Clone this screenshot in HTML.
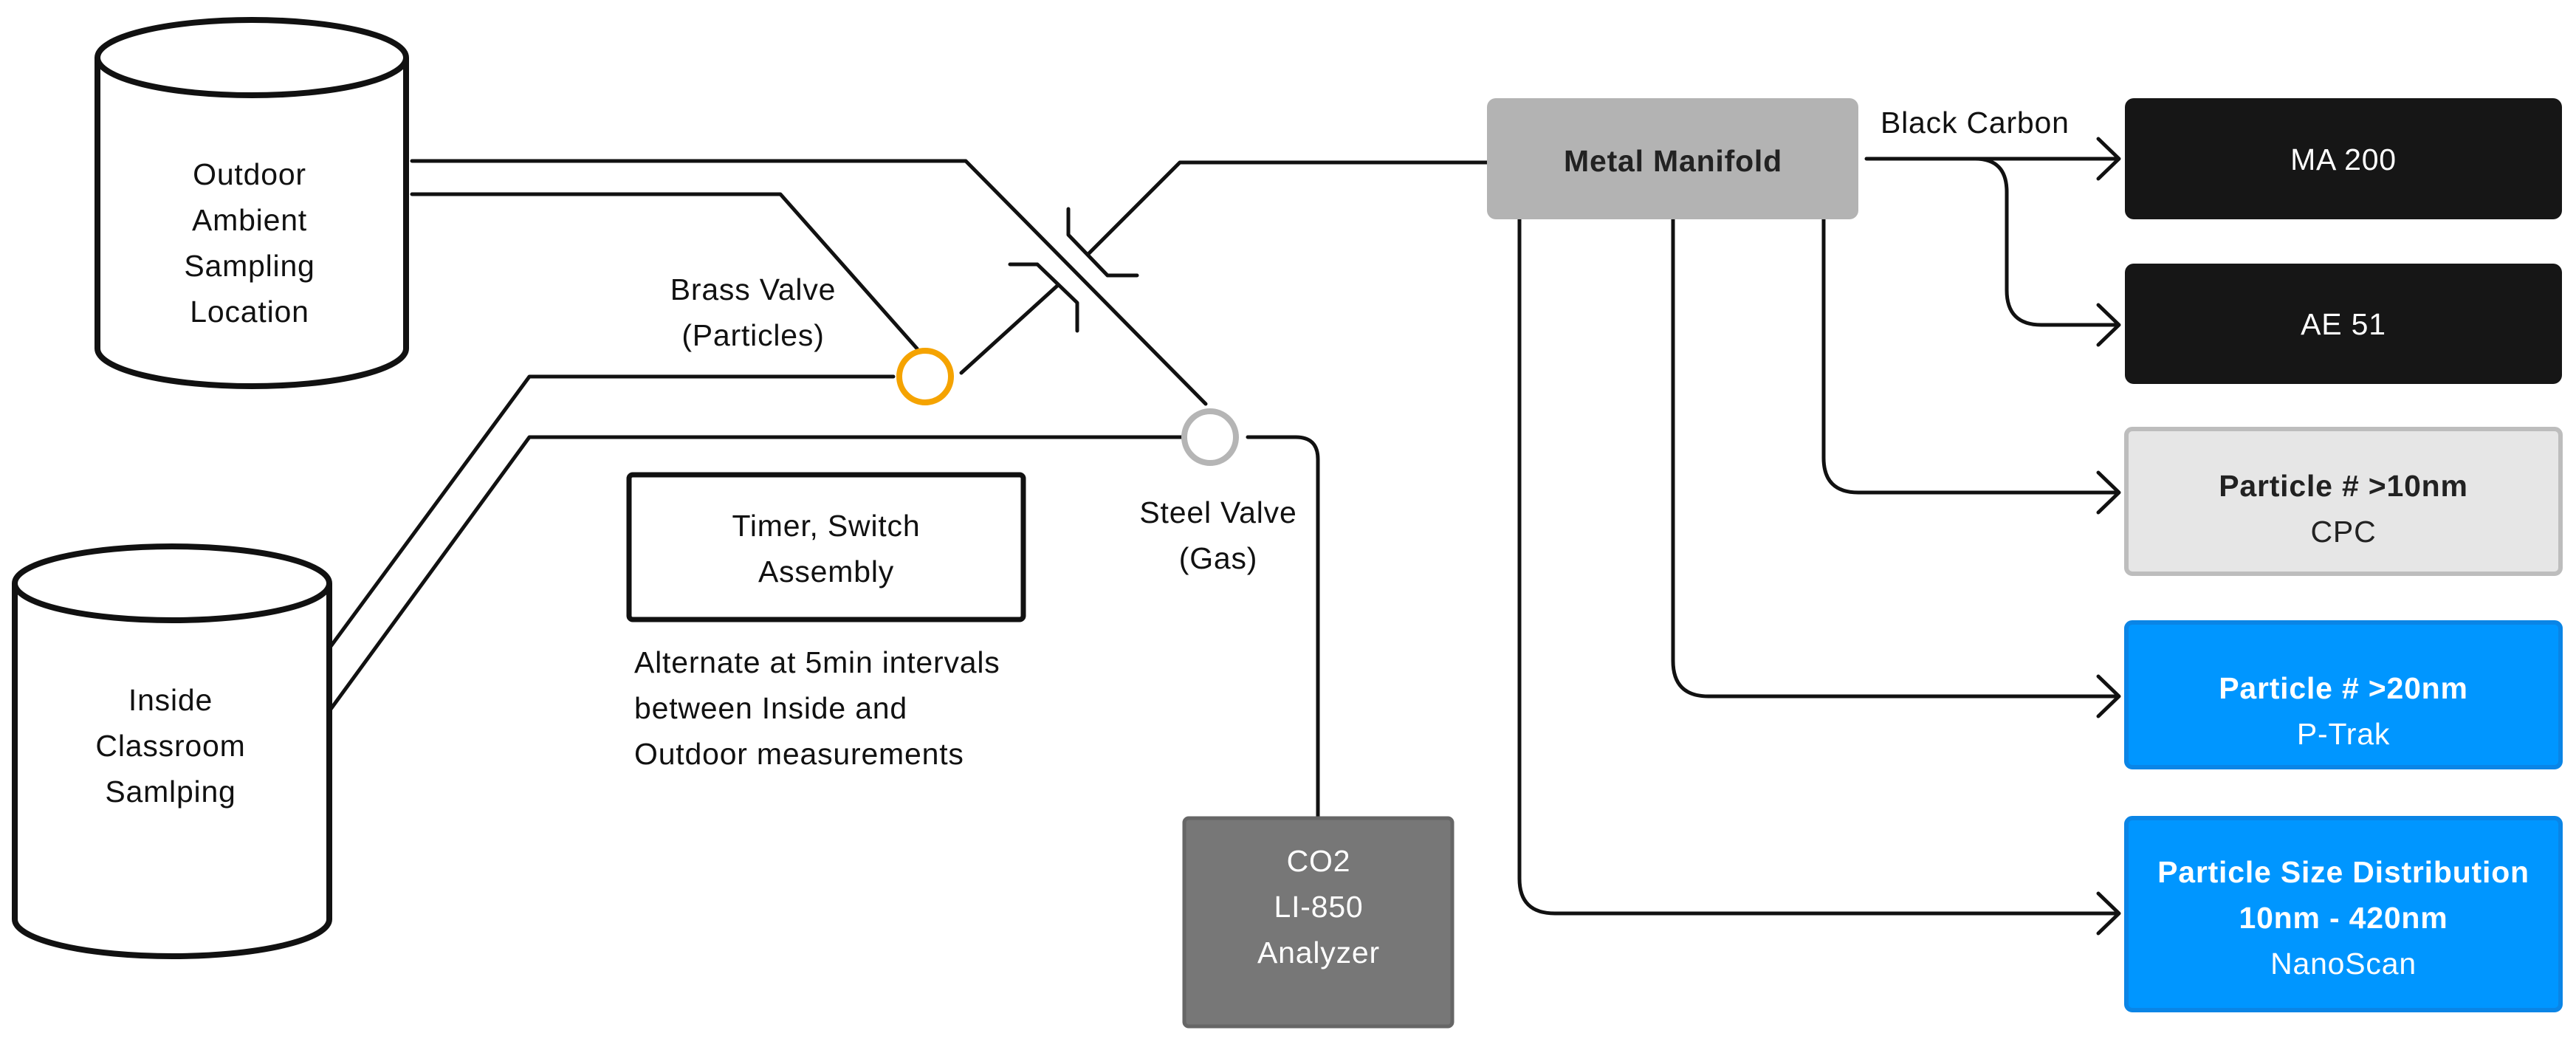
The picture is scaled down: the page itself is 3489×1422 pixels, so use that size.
<!DOCTYPE html>
<html><head><meta charset="utf-8"><style>
html,body{margin:0;padding:0;background:#fff;}
svg{display:block;}
text{font-family:"Liberation Sans",sans-serif;letter-spacing:0.8px;}
</style></head><body>
<svg width="3489" height="1422" viewBox="0 0 3489 1422" xmlns="http://www.w3.org/2000/svg">
<rect width="3489" height="1422" fill="#fff"/>
<g fill="none" stroke="#111" stroke-width="8">
<path d="M132 78 V472 A209 51 0 0 0 550 472 V78"/>
<ellipse cx="341" cy="78" rx="209" ry="51"/>
<path d="M20 790 V1245 A213 50 0 0 0 446 1245 V790"/>
<ellipse cx="233" cy="790" rx="213" ry="50"/>
</g>
<g fill="none" stroke="#111" stroke-width="5" stroke-linecap="round" stroke-linejoin="round">
<path d="M558 218 H1308 L1633 547"/>
<path d="M558 263 H1057 L1242 472"/>
<path d="M1302 505 L1432 387"/>
<path d="M1475 343 L1598 220 H2014"/>
<path d="M1447 283 V318 L1500 373 H1540"/>
<path d="M1368 358 H1405 L1459 410 V448"/>
<path d="M446 878 L717 510 H1210"/>
<path d="M446 963 L717 592 H1600"/>
<path d="M1690 592 H1755 Q1785 592 1785 622 V1106"/>
<path d="M2528 215 H2868"/>
<path d="M2675 215 Q2718 215 2718 260 V393 Q2718 440 2765 440 H2868"/>
<path d="M2470 297 V620 Q2470 667 2517 667 H2868"/>
<path d="M2266 297 V895 Q2266 943 2314 943 H2868"/>
<path d="M2058 297 V1190 Q2058 1237 2106 1237 H2868"/>
<path d="M2842 188 L2870 215 L2842 242"/>
<path d="M2842 413 L2870 440 L2842 467"/>
<path d="M2842 640 L2870 667 L2842 694"/>
<path d="M2842 916 L2870 943 L2842 970"/>
<path d="M2842 1210 L2870 1237 L2842 1264"/>
</g>
<circle cx="1253" cy="510" r="35" fill="none" stroke="#f5a300" stroke-width="8"/>
<circle cx="1639" cy="592" r="35" fill="none" stroke="#b5b5b5" stroke-width="8"/>
<rect x="852" y="643" width="534" height="196" rx="5" fill="#fff" stroke="#111" stroke-width="7"/>
<rect x="1604" y="1108" width="363" height="282" rx="6" fill="#777" stroke="#666" stroke-width="5"/>
<rect x="2014" y="133" width="503" height="164" rx="12" fill="#b3b3b3"/>
<rect x="2878" y="133" width="592" height="164" rx="12" fill="#161616"/>
<rect x="2878" y="357" width="592" height="163" rx="12" fill="#161616"/>
<rect x="2880" y="581" width="588" height="196" rx="8" fill="#e6e6e6" stroke="#bdbdbd" stroke-width="6"/>
<rect x="2880" y="843" width="588" height="196" rx="8" fill="#0096ff" stroke="#0a85e6" stroke-width="6"/>
<rect x="2880" y="1108" width="588" height="260" rx="8" fill="#0096ff" stroke="#0a85e6" stroke-width="6"/>
<g font-size="41" fill="#111" text-anchor="middle">
<text x="338" y="250">Outdoor</text>
<text x="338" y="312">Ambient</text>
<text x="338" y="374">Sampling</text>
<text x="338" y="436">Location</text>
<text x="231" y="962">Inside</text>
<text x="231" y="1024">Classroom</text>
<text x="231" y="1086">Samlping</text>
<text x="1020" y="406">Brass Valve</text>
<text x="1020" y="468">(Particles)</text>
<text x="1650" y="708">Steel Valve</text>
<text x="1650" y="770">(Gas)</text>
<text x="1119" y="726">Timer, Switch</text>
<text x="1119" y="788">Assembly</text>
</g>
<g font-size="41" fill="#111">
<text x="859" y="911">Alternate at 5min intervals</text>
<text x="859" y="973">between Inside and</text>
<text x="859" y="1035">Outdoor measurements</text>
<text x="2547" y="180">Black Carbon</text>
</g>
<g font-size="41" fill="#fff" text-anchor="middle">
<text x="1786" y="1180">CO2</text>
<text x="1786" y="1242">LI-850</text>
<text x="1786" y="1304">Analyzer</text>
<text x="3174" y="230">MA 200</text>
<text x="3174" y="453">AE 51</text>
<text x="3174" y="1008">P-Trak</text>
<text x="3174" y="1319">NanoScan</text>
<text x="3174" y="946" font-weight="bold">Particle # &gt;20nm</text>
<text x="3174" y="1195" font-weight="bold">Particle Size Distribution</text>
<text x="3174" y="1257" font-weight="bold">10nm - 420nm</text>
</g>
<g font-size="41" fill="#222" text-anchor="middle">
<text x="2266" y="232" font-weight="bold">Metal Manifold</text>
<text x="3174" y="672" font-weight="bold">Particle # &gt;10nm</text>
<text x="3174" y="734">CPC</text>
</g>
</svg>
</body></html>
